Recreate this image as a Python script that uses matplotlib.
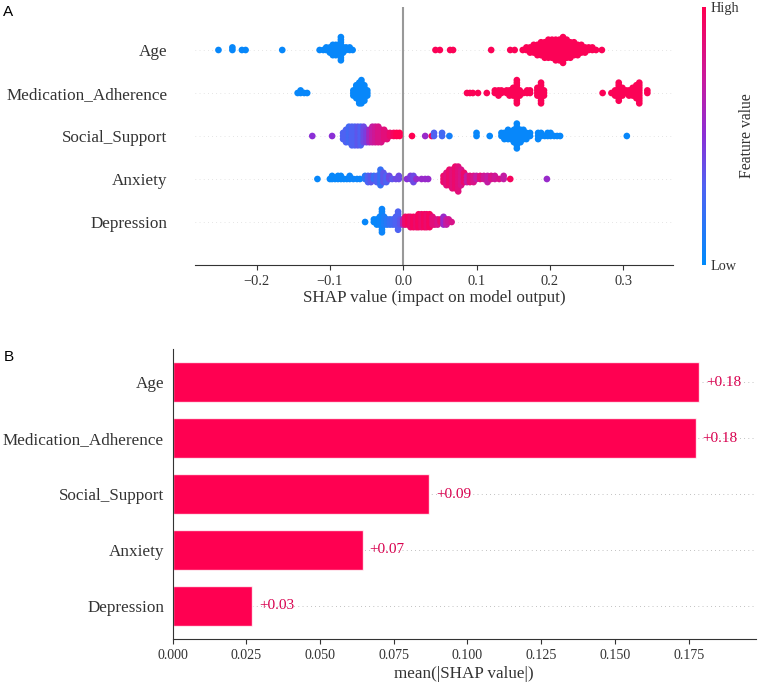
import numpy as np
import matplotlib
matplotlib.use("Agg")
import matplotlib.pyplot as plt
from matplotlib.colors import LinearSegmentedColormap

plt.rcParams['font.family'] = ['Liberation Serif', 'DejaVu Serif']

features = ["Age", "Medication_Adherence", "Social_Support", "Anxiety", "Depression"]

# ---- Panel A: beeswarm data (SHAP value bins, point counts, feature value per bin) ----
age_shap = [-0.252, -0.233, -0.220, -0.215, -0.165, -0.114, -0.109, -0.105, -0.100, -0.096, -0.092,
            -0.088, -0.085, -0.082, -0.078, -0.073, -0.069,
            0.044, 0.050, 0.064, 0.068, 0.120, 0.146, 0.152, 0.163, 0.168, 0.173, 0.178, 0.183, 0.188,
            0.193, 0.198, 0.203, 0.208, 0.213, 0.218, 0.223, 0.228, 0.233, 0.238, 0.243, 0.248, 0.253,
            0.258, 0.263, 0.271]
age_count = [1, 2, 1, 1, 1, 1, 1, 2, 3, 5, 5, 4, 10, 3, 2, 2, 1,
             1, 1, 1, 1, 1, 1, 1, 1, 2, 3, 4, 5, 6, 7, 8, 8, 9, 9, 11, 8, 7, 6, 5, 4, 3, 2, 2, 1, 1]
age_feat = [0.03, 0.03, 0.03, 0.03, 0.03, 0.03, 0.03, 0.03, 0.03, 0.03, 0.03, 0.03, 0.03, 0.03, 0.03, 0.03, 0.03,
            0.98, 0.98, 0.98, 0.98, 0.98, 0.98, 0.98, 0.98, 0.98, 0.98, 0.98, 0.98, 0.98, 0.98, 0.98, 0.98,
            0.98, 0.98, 0.98, 0.98, 0.98, 0.98, 0.98, 0.98, 0.98, 0.98, 0.98, 0.98, 0.98]

med_shap = [-0.144, -0.140, -0.135, -0.131, -0.068, -0.064, -0.060, -0.057, -0.053, -0.049,
            0.087, 0.091, 0.095, 0.102, 0.114, 0.125, 0.130, 0.134, 0.141, 0.145, 0.150, 0.155, 0.159,
            0.164, 0.169, 0.173, 0.183, 0.188, 0.192,
            0.272, 0.284, 0.289, 0.294, 0.299, 0.304, 0.308, 0.313, 0.318, 0.322, 0.333]
med_count = [1, 2, 1, 1, 3, 6, 9, 10, 7, 3,
             1, 1, 1, 1, 1, 2, 3, 2, 2, 3, 4, 10, 3, 1, 2, 2, 4, 9, 3,
             1, 1, 3, 8, 4, 2, 3, 4, 6, 9, 2]
med_feat = [0.03, 0.03, 0.03, 0.03, 0.03, 0.03, 0.03, 0.03, 0.03, 0.03,
            0.98, 0.98, 0.98, 0.98, 0.98, 0.98, 0.98, 0.98, 0.98, 0.98, 0.98, 0.98, 0.98, 0.98, 0.98,
            0.98, 0.98, 0.98, 0.98,
            0.98, 0.98, 0.98, 0.98, 0.98, 0.98, 0.98, 0.98, 0.98, 0.98, 0.98]

soc_shap = [-0.124, -0.097, -0.082, -0.078, -0.074, -0.070, -0.066, -0.062, -0.058, -0.054, -0.050,
            -0.046, -0.042, -0.038, -0.034, -0.030, -0.026, -0.022, -0.018, -0.013, -0.009, -0.005,
            0.012, 0.030, 0.039, 0.042, 0.053, 0.063, 0.100, 0.118, 0.134, 0.138, 0.143, 0.147, 0.151,
            0.155, 0.160, 0.164, 0.168, 0.173, 0.184, 0.188, 0.193, 0.197, 0.201, 0.206, 0.210, 0.214,
            0.305]
soc_count = [1, 1, 3, 5, 6, 7, 7, 7, 7, 6, 5, 5, 6, 6, 6, 5, 4, 3, 2, 2, 2, 2,
             1, 1, 1, 2, 2, 1, 2, 1, 2, 3, 4, 3, 5, 9, 5, 4, 3, 2, 3, 2, 1, 2, 2, 1, 1, 1, 1]
soc_feat = [0.5, 0.5, 0.3, 0.3, 0.25, 0.3, 0.3, 0.35, 0.3, 0.4, 0.45, 0.6, 0.7, 0.75, 0.8, 0.8, 0.85,
            0.85, 0.9, 0.95, 1.0, 1.0,
            1.0, 0.55, 0.95, 0.3, 0.25, 0.08, 0.03, 0.03, 0.03, 0.03, 0.03, 0.03, 0.03, 0.03, 0.03,
            0.03, 0.03, 0.03, 0.03, 0.03, 0.03, 0.03, 0.03, 0.03, 0.03, 0.03, 0.03]

anx_shap = [-0.117, -0.100, -0.097, -0.093, -0.089, -0.085, -0.081, -0.077, -0.073, -0.068, -0.063, -0.059,
            -0.052, -0.048, -0.044, -0.040, -0.036, -0.031, -0.027, -0.023, -0.019, -0.015, -0.010, -0.006,
            0.005, 0.010, 0.014, 0.018, 0.025, 0.030, 0.034,
            0.055, 0.059, 0.063, 0.067, 0.071, 0.075, 0.079, 0.083, 0.087, 0.091, 0.096,
            0.100, 0.105, 0.110, 0.115, 0.120, 0.125, 0.131, 0.137, 0.146, 0.196]
anx_count = [1, 1, 2, 1, 2, 2, 1, 1, 2, 1, 1, 1,
             2, 3, 3, 2, 3, 6, 4, 3, 2, 1, 1, 2,
             1, 2, 3, 1, 1, 1, 1,
             3, 5, 6, 7, 8, 9, 6, 4, 3, 3, 3,
             2, 2, 2, 3, 2, 2, 1, 2, 1, 1]
anx_feat = [0.03, 0.03, 0.03, 0.03, 0.03, 0.03, 0.03, 0.03, 0.05, 0.05, 0.05, 0.05,
            0.15, 0.3, 0.35, 0.2, 0.3, 0.2, 0.35, 0.3, 0.4, 0.35, 0.4, 0.4,
            0.5, 0.45, 0.4, 0.55, 0.55, 0.55, 0.55,
            0.9, 0.85, 0.9, 0.85, 0.9, 0.85, 0.8, 0.9, 0.7, 0.85, 0.8,
            0.7, 0.85, 0.75, 0.7, 0.8, 0.75, 0.8, 0.7, 0.95, 0.55]

dep_shap = [-0.052, -0.040, -0.036, -0.032, -0.029, -0.026, -0.022, -0.018, -0.014, -0.010, -0.007,
            -0.004, 0.000, 0.003, 0.007, 0.010, 0.014, 0.018, 0.021, 0.025, 0.029, 0.032, 0.036, 0.040,
            0.043, 0.047, 0.051, 0.055, 0.059, 0.062, 0.066]
dep_count = [1, 2, 3, 4, 10, 4, 3, 3, 3, 4, 8, 3, 3, 4, 4, 5, 5, 5, 6, 6, 6, 6, 6, 4, 3, 3, 2, 4, 3, 2, 1]
dep_feat = [0.03, 0.03, 0.03, 0.05, 0.05, 0.1, 0.15, 0.2, 0.25, 0.3, 0.3, 0.35, 0.65, 0.9, 0.95, 0.9,
            0.95, 0.9, 0.95, 0.9, 0.95, 0.9, 0.95, 0.85, 0.85, 0.8, 0.9, 0.55, 0.7, 0.75, 0.8]

rows_shap = [age_shap, med_shap, soc_shap, anx_shap, dep_shap]
rows_count = [age_count, med_count, soc_count, anx_count, dep_count]
rows_feat = [age_feat, med_feat, soc_feat, anx_feat, dep_feat]

# ---- Panel B: mean |SHAP| ----
mean_abs = [0.1786, 0.1773, 0.0871, 0.0645, 0.0269]
mean_labels = ["+0.18", "+0.18", "+0.09", "+0.07", "+0.03"]

RED = "#ff0051"
cmap = LinearSegmentedColormap.from_list(
    "red_blue", [(0.0, "#008bfb"), (0.3, "#4f62f2"), (0.5, "#8a2fd6"), (0.72, "#c81a9e"), (1.0, "#ff0051")])

W, H = 767, 691
fig = plt.figure(figsize=(W / 100, H / 100), dpi=100)


def fx(px):
    return px / W


def fy(py):
    return 1 - py / H


# ---------- Panel A ----------
ax1 = fig.add_axes([fx(195), fy(265), fx(673) - fx(195), fy(7) - fy(265)])
n = len(features)
row_height = 0.4
for i, name in enumerate(features):
    pos = n - 1 - i
    vals = np.repeat(np.array(rows_shap[i]), rows_count[i])
    feats = np.repeat(np.array(rows_feat[i]), rows_count[i])
    ys = []
    for c in rows_count[i]:
        for layer in range(c):
            ys.append(np.ceil(layer / 2) * ((layer % 2) * 2 - 1))
    ys = np.array(ys, dtype=float)
    ys *= 0.9 * (row_height / np.max(ys + 1))
    ax1.axhline(pos, color="#cccccc", lw=0.5, dashes=(1, 5), zorder=-1)
    ax1.scatter(vals, pos + ys, c=feats, cmap=cmap, vmin=0, vmax=1, s=23, linewidth=0, zorder=3)
ax1.axvline(0, color="#999999", lw=1.5, zorder=-1)
ax1.set_xlim(-0.284, 0.368)
ax1.set_ylim(-1, n)
ax1.set_yticks(range(n))
ax1.set_yticklabels(features[::-1], fontsize=12.3, color="#333333")
ax1.yaxis.set_ticks_position('none')
ax1.tick_params('y', pad=16.5)
ax1.set_xticks([-0.2, -0.1, 0.0, 0.1, 0.2, 0.3])
ax1.tick_params('x', labelsize=10.4, colors="#333333", length=3.5)
for s in ['top', 'right', 'left']:
    ax1.spines[s].set_visible(False)
ax1.spines['bottom'].set_color("#333333")
ax1.set_xlabel("SHAP value (impact on model output)", fontsize=12.3, color="#333333", labelpad=2)

cax = fig.add_axes([fx(702), fy(265), 3.5 / W, fy(7) - fy(265)])
sm = matplotlib.cm.ScalarMappable(cmap=cmap, norm=matplotlib.colors.Normalize(0, 1))
cb = fig.colorbar(sm, cax=cax, ticks=[0, 1])
cb.set_ticklabels(["Low", "High"])
cb.ax.tick_params(labelsize=10.3, length=0, colors="#333333")
cb.outline.set_visible(False)
cb.set_label("Feature value", size=11.3, labelpad=0, color="#333333")

fig.text(fx(3), fy(12), "A", family="Liberation Sans", fontsize=11, va="center", ha="left")

# ---------- Panel B ----------
ax2 = fig.add_axes([fx(172.5), fy(639), fx(756) - fx(172.5), fy(349) - fy(639)])
ypos = np.arange(n)[::-1]
for yy in ypos:
    ax2.axhline(yy, color="#888888", lw=0.5, dashes=(1, 5), zorder=-1)
ax2.barh(ypos, mean_abs, height=0.7, color=RED, edgecolor=(1, 1, 1, 0.8), linewidth=1, zorder=2)
for yy, v, lab in zip(ypos, mean_abs, mean_labels):
    ax2.annotate(lab, (v, yy), xytext=(5, 0), textcoords="offset points", ha="left", va="center",
                 color="#d8004e", fontsize=11)
ax2.set_xlim(0, 0.1978)
ax2.set_ylim(-0.59, n - 1 + 0.59)
ax2.set_yticks(ypos)
ax2.set_yticklabels(features, fontsize=12.3, color="#333333")
ax2.yaxis.set_ticks_position('none')
ax2.tick_params('y', pad=2.5)
ax2.set_xticks([0.0, 0.025, 0.05, 0.075, 0.1, 0.125, 0.15, 0.175])
ax2.set_xticklabels(["0.000", "0.025", "0.050", "0.075", "0.100", "0.125", "0.150", "0.175"])
ax2.tick_params('x', labelsize=10.1, colors="#333333", length=3.5)
for s in ['top', 'right']:
    ax2.spines[s].set_visible(False)
ax2.spines['bottom'].set_color("#333333")
ax2.spines['left'].set_color("#333333")
ax2.set_xlabel("mean(|SHAP value|)", fontsize=12.3, color="#333333", labelpad=3)

fig.text(fx(4), fy(357), "B", family="Liberation Sans", fontsize=11, va="center", ha="left")

fig.savefig("out.png", dpi=100)
